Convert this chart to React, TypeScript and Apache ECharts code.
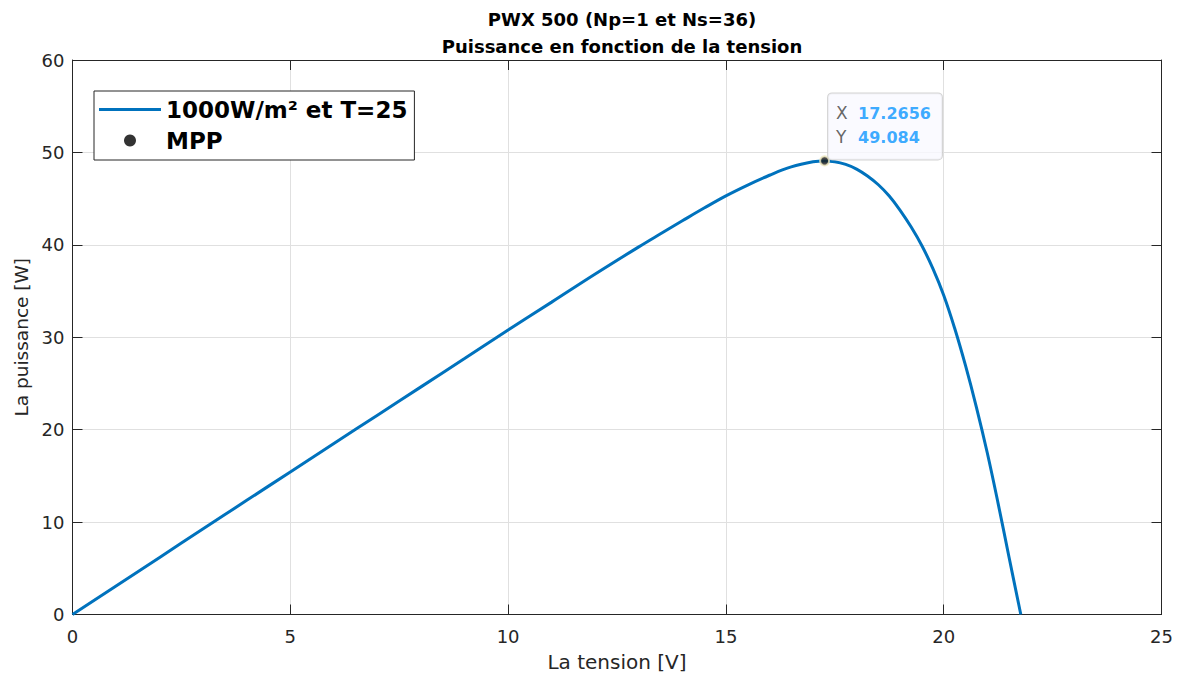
import React, { useEffect, useRef } from "react";
import * as echarts from "echarts";

// Photovoltaic module PWX 500: P(V) curve at 1000 W/m² and 25 °C
const voltage = [
  0, 1, 2, 3, 4, 5, 6, 7, 8, 9, 10, 11, 12, 13, 13.5, 14, 14.5, 15, 15.5, 16,
  16.5, 17, 17.2656, 17.5, 17.75, 18, 18.25, 18.5, 18.75, 19, 19.25, 19.5,
  19.75, 20, 20.25, 20.5, 20.75, 21, 21.25, 21.5, 21.77,
];
const power = [
  0, 3.09, 6.18, 9.27, 12.35, 15.43, 18.5, 21.57, 24.63, 27.7, 30.78, 33.8,
  36.84, 39.78, 41.2, 42.6, 43.98, 45.3, 46.47, 47.53, 48.43, 48.98, 49.084,
  49.0, 48.7, 48.2, 47.45, 46.5, 45.28, 43.74, 41.95, 39.9, 37.45, 34.55,
  31.0, 26.95, 22.45, 17.5, 12.0, 6.2, 0,
];

const mppVoltage = 17.2656;
const mppPower = 49.084;

const xTicks = { min: 0, max: 25, interval: 5 };
const yTicks = { min: 0, max: 60, interval: 10 };

const FONT = "'DejaVu Sans', Verdana, sans-serif";
const AXIS_COLOR = "#262626";
const GRID_COLOR = "#e0e0e0";
const CURVE_COLOR = "#0072BD";

export default function App() {
  const ref = useRef<HTMLDivElement>(null);

  useEffect(() => {
    if (!ref.current) return;
    const chart = echarts.init(ref.current, undefined, { renderer: "svg" });

    const curve = voltage.map((v, i) => [v, power[i]]);

    const tickStyle = {
      show: true,
      inside: true,
      length: 10,
      lineStyle: { color: AXIS_COLOR, width: 1 },
    };
    const lineStyle = { show: true, onZero: false, lineStyle: { color: AXIS_COLOR, width: 1 } };
    const labelStyle = { color: AXIS_COLOR, fontSize: 18, fontFamily: FONT };

    chart.setOption({
      animation: false,
      backgroundColor: "#ffffff",
      textStyle: { fontFamily: FONT },
      title: {
        text: "PWX 500 (Np=1 et Ns=36)\nPuissance en fonction de la tension",
        left: 617,
        top: 1,
        textAlign: "center",
        textStyle: {
          fontSize: 18,
          fontWeight: "bold",
          color: "#000",
          fontFamily: FONT,
          lineHeight: 27,
        },
      },
      grid: {
        left: 72.5,
        top: 60,
        width: 1089,
        height: 554.5,
        show: false,
        containLabel: false,
        outerBoundsMode: "none",
      },
      legend: {
        orient: "vertical",
        left: 94,
        top: 91,
        padding: [7, 7, 8, 5],
        itemGap: 8,
        itemWidth: 62,
        itemHeight: 12,
        backgroundColor: "#ffffff",
        borderColor: AXIS_COLOR,
        borderWidth: 1,
        borderRadius: 0,
        textStyle: {
          fontSize: 23,
          fontWeight: "bold",
          color: "#000",
          fontFamily: FONT,
        },
        data: [
          {
            name: "1000W/m² et T=25",
            icon: "path://M0,0 H62 V3 H0 Z",
            itemStyle: { color: CURVE_COLOR, borderWidth: 0 },
          },
          {
            name: "MPP",
            icon: "circle",
            itemStyle: { color: "#000", borderWidth: 0 },
          },
        ],
      },
      xAxis: [
        {
          type: "value",
          ...xTicks,
          position: "bottom",
          axisLine: lineStyle,
          axisTick: tickStyle,
          axisLabel: { ...labelStyle, margin: 13 },
          splitLine: { show: true, lineStyle: { color: GRID_COLOR, width: 1 } },
          name: "La tension [V]",
          nameLocation: "middle",
          nameGap: 37,
          nameTextStyle: { fontSize: 20, color: AXIS_COLOR, fontFamily: FONT },
        },
        {
          type: "value",
          ...xTicks,
          position: "top",
          axisLine: lineStyle,
          axisTick: tickStyle,
          axisLabel: { show: false },
          splitLine: { show: false },
        },
      ],
      yAxis: [
        {
          type: "value",
          ...yTicks,
          position: "left",
          axisLine: lineStyle,
          axisTick: tickStyle,
          axisLabel: { ...labelStyle, margin: 8 },
          splitLine: { show: true, lineStyle: { color: GRID_COLOR, width: 1 } },
          name: "La puissance [W]",
          nameLocation: "middle",
          nameGap: 42,
          nameTextStyle: { fontSize: 18.5, color: AXIS_COLOR, fontFamily: FONT },
        },
        {
          type: "value",
          ...yTicks,
          position: "right",
          axisLine: lineStyle,
          axisTick: tickStyle,
          axisLabel: { show: false },
          splitLine: { show: false },
        },
      ],
      series: [
        {
          name: "1000W/m² et T=25",
          type: "line",
          data: curve,
          smooth: 0.4,
          showSymbol: false,
          symbol: "none",
          lineStyle: { color: CURVE_COLOR, width: 3 },
          itemStyle: { color: CURVE_COLOR },
          z: 2,
        },
        {
          name: "MPP",
          type: "scatter",
          data: [[mppVoltage, mppPower]],
          symbol: "circle",
          symbolSize: 9,
          itemStyle: { color: "#1a1a1a", borderColor: "#efe9bf", borderWidth: 2 },
          z: 5,
          label: {
            show: true,
            position: [9, 4],
            align: "left",
            verticalAlign: "bottom",
            backgroundColor: "#f9f9ff",
            borderColor: "#c8c8c8",
            borderWidth: 1,
            borderRadius: 4,
            padding: [8, 11, 10, 8],
            formatter: () => `{k|X}{v|${mppVoltage}}\n{k|Y}{v|${mppPower}}`,
            rich: {
              k: { fontSize: 17, color: "#404040", fontFamily: FONT, lineHeight: 24, width: 22 },
              v: {
                fontSize: 16,
                color: "#0a96ff",
                fontWeight: "bold",
                fontFamily: FONT,
                lineHeight: 24,
              },
            },
          },
        },
      ],
    });

    return () => chart.dispose();
  }, []);

  return (
    <div
      ref={ref}
      style={{
        position: "fixed",
        left: 0,
        top: 0,
        width: 1182,
        height: 679,
        background: "#fff",
      }}
    />
  );
}
